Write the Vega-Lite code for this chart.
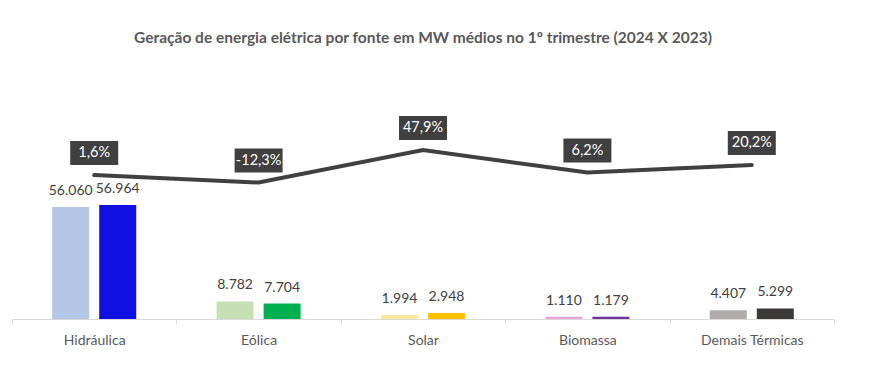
{
  "$schema": "https://vega.github.io/schema/vega-lite/v6.json",
  "width": 822,
  "height": 250,
  "autosize": "none",
  "padding": {"left": 12, "top": 69, "right": 35, "bottom": 69},
  "background": "white",
  "title": {
    "text": "Geração de energia elétrica por fonte em MW médios no 1º trimestre (2024 X 2023)",
    "font": "Lato",
    "fontSize": 15.5,
    "fontWeight": "bold",
    "color": "#595959",
    "anchor": "middle",
    "frame": "group",
    "offset": 23
  },
  "config": {
    "view": {"stroke": null},
    "font": "Lato",
    "locale": {
      "number": {"decimal": ",", "thousands": ".", "grouping": [3], "currency": ["R$", ""], "percent": "%", "minus": "-"}
    }
  },
  "datasets": {
    "geracao": [
      {"fonte": "Hidráulica", "ano": "2023", "serie": "Hidráulica 2023", "valor": 56060},
      {"fonte": "Hidráulica", "ano": "2024", "serie": "Hidráulica 2024", "valor": 56964},
      {"fonte": "Eólica", "ano": "2023", "serie": "Eólica 2023", "valor": 8782},
      {"fonte": "Eólica", "ano": "2024", "serie": "Eólica 2024", "valor": 7704},
      {"fonte": "Solar", "ano": "2023", "serie": "Solar 2023", "valor": 1994},
      {"fonte": "Solar", "ano": "2024", "serie": "Solar 2024", "valor": 2948},
      {"fonte": "Biomassa", "ano": "2023", "serie": "Biomassa 2023", "valor": 1110},
      {"fonte": "Biomassa", "ano": "2024", "serie": "Biomassa 2024", "valor": 1179},
      {"fonte": "Demais Térmicas", "ano": "2023", "serie": "Demais Térmicas 2023", "valor": 4407},
      {"fonte": "Demais Térmicas", "ano": "2024", "serie": "Demais Térmicas 2024", "valor": 5299}
    ],
    "variacao": [
      {"fonte": "Hidráulica", "var": 0.016},
      {"fonte": "Eólica", "var": -0.123},
      {"fonte": "Solar", "var": 0.479},
      {"fonte": "Biomassa", "var": 0.062},
      {"fonte": "Demais Térmicas", "var": 0.202}
    ]
  },
  "encoding": {
    "x": {
      "field": "fonte",
      "type": "nominal",
      "sort": ["Hidráulica", "Eólica", "Solar", "Biomassa", "Demais Térmicas"],
      "scale": {"paddingInner": 0, "paddingOuter": 0},
      "axis": {
        "title": null,
        "labelAngle": 0,
        "labelFont": "Lato",
        "labelFontSize": 14,
        "labelColor": "#595959",
        "labelPadding": 9,
        "domainColor": "#D9D9D9",
        "domainWidth": 1,
        "tickColor": "#D9D9D9",
        "tickSize": 5,
        "tickBand": "extent",
        "grid": false
      }
    }
  },
  "layer": [
    {
      "data": {"name": "geracao"},
      "mark": {"type": "bar"},
      "encoding": {
        "xOffset": {"field": "ano", "type": "nominal", "scale": {"paddingInner": 0.2128, "paddingOuter": 0.855}},
        "y": {"field": "valor", "type": "quantitative", "scale": {"domain": [0, 125000]}, "axis": null},
        "color": {
          "field": "serie",
          "type": "nominal",
          "legend": null,
          "scale": {
            "domain": ["Hidráulica 2023", "Hidráulica 2024", "Eólica 2023", "Eólica 2024", "Solar 2023", "Solar 2024", "Biomassa 2023", "Biomassa 2024", "Demais Térmicas 2023", "Demais Térmicas 2024"],
            "range": ["#B4C7E7", "#1010E3", "#C5E0B4", "#00B050", "#FFE699", "#FFC000", "#E3A2D8", "#7030A0", "#AFABAB", "#3B3838"]
          }
        }
      }
    },
    {
      "data": {"name": "geracao"},
      "mark": {"type": "text", "font": "Lato", "fontSize": 14, "color": "#404040", "baseline": "alphabetic", "dy": -12},
      "encoding": {
        "xOffset": {"field": "ano", "type": "nominal"},
        "y": {"field": "valor", "type": "quantitative", "scale": {"domain": [0, 125000]}, "axis": null},
        "text": {"field": "valor", "type": "quantitative", "format": ",.0f"}
      }
    },
    {
      "data": {"name": "variacao"},
      "mark": {"type": "line", "color": "#404040", "strokeWidth": 4, "strokeCap": "round"},
      "encoding": {
        "y": {"field": "var", "type": "quantitative", "scale": {"domain": [-2.65, 1.98]}, "axis": null}
      }
    },
    {
      "data": {"name": "variacao"},
      "mark": {"type": "point", "shape": "M-1,-0.5H1V0.5H-1Z", "size": 2304, "filled": true, "color": "#404040", "opacity": 1, "yOffset": -22},
      "encoding": {
        "y": {"field": "var", "type": "quantitative", "scale": {"domain": [-2.65, 1.98]}, "axis": null}
      }
    },
    {
      "data": {"name": "variacao"},
      "mark": {"type": "text", "font": "Lato", "fontSize": 14.5, "color": "white", "baseline": "middle", "dy": -22},
      "encoding": {
        "y": {"field": "var", "type": "quantitative", "scale": {"domain": [-2.65, 1.98]}, "axis": null},
        "text": {"field": "var", "type": "quantitative", "format": ".1%"}
      }
    }
  ],
  "resolve": {"scale": {"y": "independent"}}
}
